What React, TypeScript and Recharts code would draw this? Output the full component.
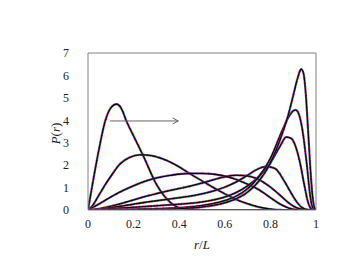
import React from 'react';
import { LineChart, Line, XAxis, YAxis, Label } from 'recharts';

const xTicks = [0, 0.2, 0.4, 0.6, 0.8, 1];
const yTicks = [0, 1, 2, 3, 4, 5, 6, 7];

const curve1: [number, number][] = [[0,0],[0.025,1.45],[0.05,2.8],[0.075,3.95],[0.1,4.55],[0.125,4.72],[0.15,4.45],[0.165,4.05],[0.2,3.3],[0.243,2.4],[0.3,1.15],[0.36,0.35],[0.4,0.1],[0.45,0.02],[0.5,0],[1,0]];
const curve2: [number, number][] = [[0,0],[0.02,0.2],[0.05,0.7],[0.08,1.2],[0.1,1.5],[0.14,2.05],[0.18,2.33],[0.23,2.46],[0.28,2.42],[0.33,2.27],[0.4,1.92],[0.45,1.6],[0.5,1.3],[0.55,1.0],[0.6,0.72],[0.65,0.47],[0.7,0.28],[0.75,0.13],[0.8,0.04],[0.86,0],[1,0]];
const curve3: [number, number][] = [[0,0],[0.05,0.28],[0.1,0.58],[0.14,0.8],[0.2,1.08],[0.25,1.28],[0.3,1.43],[0.35,1.53],[0.4,1.6],[0.45,1.63],[0.5,1.63],[0.55,1.6],[0.6,1.51],[0.65,1.36],[0.7,1.15],[0.75,0.9],[0.8,0.55],[0.84,0.28],[0.88,0.09],[0.92,0.01],[0.95,0],[1,0]];
const curve4: [number, number][] = [[0,0],[0.05,0.06],[0.1,0.17],[0.15,0.3],[0.2,0.45],[0.25,0.6],[0.3,0.73],[0.35,0.85],[0.4,0.96],[0.45,1.07],[0.5,1.2],[0.55,1.35],[0.6,1.48],[0.65,1.55],[0.7,1.52],[0.75,1.35],[0.8,1.02],[0.84,0.68],[0.88,0.32],[0.91,0.12],[0.94,0.03],[0.97,0],[1,0]];
const curve5: [number, number][] = [[0,0],[0.05,0.04],[0.1,0.1],[0.15,0.18],[0.2,0.26],[0.25,0.34],[0.3,0.41],[0.35,0.48],[0.4,0.55],[0.45,0.62],[0.5,0.72],[0.55,0.85],[0.6,1.02],[0.65,1.25],[0.7,1.55],[0.74,1.8],[0.78,1.94],[0.82,1.85],[0.86,1.3],[0.88,0.95],[0.9,0.6],[0.92,0.3],[0.94,0.1],[0.96,0.02],[0.98,0],[1,0]];
const curve6: [number, number][] = [[0,0],[0.1,0.05],[0.2,0.12],[0.3,0.19],[0.4,0.26],[0.45,0.3],[0.5,0.36],[0.55,0.45],[0.6,0.58],[0.65,0.78],[0.7,1.08],[0.75,1.5],[0.8,2.1],[0.84,2.8],[0.87,3.25],[0.89,3.2],[0.91,2.85],[0.93,2.1],[0.95,1.05],[0.965,0.35],[0.98,0.04],[0.99,0],[1,0]];
const curve7: [number, number][] = [[0,0],[0.2,0.03],[0.3,0.06],[0.4,0.1],[0.5,0.2],[0.6,0.42],[0.65,0.62],[0.7,0.95],[0.75,1.5],[0.8,2.3],[0.85,3.5],[0.88,4.15],[0.9,4.42],[0.91,4.46],[0.92,4.38],[0.94,3.6],[0.96,2.0],[0.975,0.6],[0.985,0.12],[1,0]];
const curve8: [number, number][] = [[0,0],[0.3,0.03],[0.4,0.06],[0.5,0.13],[0.6,0.32],[0.65,0.5],[0.7,0.8],[0.75,1.3],[0.8,2.1],[0.85,3.35],[0.88,4.3],[0.9,5.1],[0.92,5.9],[0.935,6.28],[0.945,6.1],[0.955,5.2],[0.965,3.6],[0.975,1.9],[0.985,0.6],[0.995,0.05],[1,0]];

const arrowShaft: [number, number][] = [[0.096, 3.97], [0.396, 3.97]];
const arrowHead: [number, number][] = [[0.372, 4.1], [0.396, 3.97], [0.372, 3.84]];

const curves = [curve1, curve2, curve3, curve4, curve5, curve6, curve7, curve8];
const toData = (pts: [number, number][]) => pts.map(([x, y]) => ({ x, y }));

const halo = [
  { color: '#e41a1c', offset: 0 },
  { color: '#00a000', offset: 1.5 },
  { color: '#1f3fff', offset: 3 },
  { color: '#b000b0', offset: 4.5 },
];

const GRAY = '#808080';
const FONT = 'Liberation Serif, DejaVu Serif, serif';

const xLabel = (props: any) => {
  const vb = props.viewBox || {};
  const cx = vb.x + vb.width / 2;
  const y = vb.y + 39;
  return (
    <text x={cx} y={y} textAnchor="middle" fontFamily={FONT} fontSize={13} fill="#222">
      <tspan fontStyle="italic">r</tspan>
      <tspan>/</tspan>
      <tspan fontStyle="italic">L</tspan>
    </text>
  );
};

const yLabel = (props: any) => {
  const vb = props.viewBox || {};
  const cx = 47;
  const cy = vb.y + vb.height / 2 + 2;
  return (
    <text x={cx} y={cy} textAnchor="middle" dominantBaseline="central" fontFamily={FONT} fontSize={13} fill="#222" transform={`rotate(-90 ${cx} ${cy})`}>
      <tspan fontStyle="italic">P</tspan>
      <tspan>(</tspan>
      <tspan fontStyle="italic">r</tspan>
      <tspan>)</tspan>
    </text>
  );
};

export default function App() {
  const tickStyle = { fontFamily: FONT, fontSize: 12, fill: '#222' };
  return (
    <LineChart width={340} height={260} margin={{ top: 45, right: 32, bottom: 0, left: 0 }}>
      <XAxis xAxisId="b" dataKey="x" type="number" domain={[0, 1]} ticks={xTicks} allowDataOverflow
        height={58} axisLine={{ stroke: GRAY }} tickLine={false} tickSize={0} tickMargin={9} tick={tickStyle}>
        <Label content={xLabel} />
      </XAxis>
      <XAxis xAxisId="bm" dataKey="x" type="number" domain={[0, 1]} ticks={xTicks} orientation="bottom" mirror
        axisLine={false} tickLine={{ stroke: GRAY }} tickSize={4} tick={false} />
      <XAxis xAxisId="t" dataKey="x" type="number" domain={[0, 1]} ticks={xTicks} orientation="top" mirror
        axisLine={{ stroke: GRAY }} tickLine={{ stroke: GRAY }} tickSize={4} tick={false} />
      <YAxis yAxisId="l" type="number" domain={[0, 7]} ticks={yTicks} allowDataOverflow width={80}
        axisLine={{ stroke: GRAY }} tickLine={false} tickSize={0} tickMargin={19} tick={tickStyle}>
        <Label content={yLabel} />
      </YAxis>
      <YAxis yAxisId="lm" type="number" domain={[0, 7]} ticks={yTicks} orientation="left" mirror
        axisLine={false} tickLine={{ stroke: GRAY }} tickSize={4} tick={false} />
      <YAxis yAxisId="r" type="number" domain={[0, 7]} ticks={yTicks} orientation="right" mirror
        axisLine={{ stroke: GRAY }} tickLine={{ stroke: GRAY }} tickSize={4} tick={false} />
      {curves.flatMap((c, i) => [
        ...halo.map((h, j) => (
          <Line key={`h${i}-${j}`} xAxisId="b" yAxisId="l" data={toData(c)} dataKey="y" type="monotone"
            stroke={h.color} strokeWidth={2.2} strokeDasharray="1.5 4.5" strokeDashoffset={h.offset}
            dot={false} activeDot={false} isAnimationActive={false} />
        )),
        <Line key={`k${i}`} xAxisId="b" yAxisId="l" data={toData(c)} dataKey="y" type="monotone"
          stroke="#000" strokeWidth={1.05} dot={false} activeDot={false} isAnimationActive={false} />,
      ])}
      <Line xAxisId="b" yAxisId="l" data={toData(arrowShaft)} dataKey="y" type="linear" stroke="#666" strokeWidth={1}
        dot={false} activeDot={false} isAnimationActive={false} />
      <Line xAxisId="b" yAxisId="l" data={toData(arrowHead)} dataKey="y" type="linear" stroke="#666" strokeWidth={1}
        dot={false} activeDot={false} isAnimationActive={false} />
    </LineChart>
  );
}
